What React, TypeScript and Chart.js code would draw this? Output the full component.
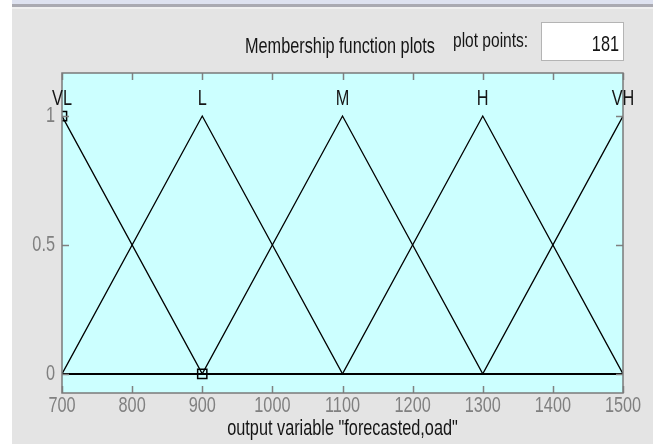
import React, { useEffect, useRef } from 'react';
import { Chart, registerables } from 'chart.js';

Chart.register(...registerables);

const FONT = '"Liberation Sans", Arial, sans-serif';
const NARROW = 0.74; // horizontal squeeze to imitate a narrow font
const FS = 22;

// ---- data ----
const xTicks = [700, 800, 900, 1000, 1100, 1200, 1300, 1400, 1500];
const yTicks = [0, 0.5, 1];
const mfNames = ['VL', 'L', 'M', 'H', 'VH'];
const mfPeaks = [700, 900, 1100, 1300, 1500];
const vlX = [700, 900, 1500];
const vlY = [1, 0, 0];
const lX = [700, 900, 1100, 1500];
const lY = [0, 1, 0, 0];
const mX = [700, 900, 1100, 1300, 1500];
const mY = [0, 0, 1, 0, 0];
const hX = [700, 1100, 1300, 1500];
const hY = [0, 0, 1, 0];
const vhX = [700, 1300, 1500];
const vhY = [0, 0, 1];
const plotPoints = '181';
const titleText = 'Membership function plots';
const plotPointsLabel = 'plot points:';
const xAxisTitle = 'output variable "forecasted,oad"';

const X_MIN = 700;
const X_MAX = 1500;
const Y_MIN = -0.074;
const Y_MAX = 1.167;
const LABEL_LEVEL = 1.066;

const BG = 'rgb(228,228,228)';
const PLOT_BG = 'rgb(204,255,255)';
const TICK_COLOR = '#808080';
const BORDER = '#7a7a7a';
const TEXT = '#151515';

const toPts = (xs: number[], ys: number[]) => xs.map((x, i) => ({ x, y: ys[i] }));

function narrowText(ctx: CanvasRenderingContext2D, text: string, x: number, y: number, align: CanvasTextAlign) {
  ctx.save();
  ctx.translate(x, y);
  ctx.scale(NARROW, 1);
  ctx.textAlign = align;
  ctx.textBaseline = 'middle';
  ctx.fillText(text, 0, 0);
  ctx.restore();
}

const framePlugin = {
  id: 'frame',
  beforeDraw(chart: any) {
    const { ctx, chartArea } = chart;
    const { left, top, right, bottom } = chartArea;
    ctx.save();
    ctx.fillStyle = PLOT_BG;
    ctx.fillRect(left, top, right - left, bottom - top);
    ctx.restore();
  },
  afterDraw(chart: any) {
    const { ctx, chartArea } = chart;
    const { left, top, right, bottom } = chartArea;
    const xs = chart.scales.x;
    const ys = chart.scales.y;
    ctx.save();
    ctx.strokeStyle = TICK_COLOR;
    ctx.lineWidth = 1.5;
    ctx.beginPath();
    xs.ticks.forEach((t: any) => {
      const px = Math.round(xs.getPixelForValue(t.value)) + 0.5;
      ctx.moveTo(px, top);
      ctx.lineTo(px, top + 7);
      ctx.moveTo(px, bottom);
      ctx.lineTo(px, bottom - 7);
    });
    ys.ticks.forEach((t: any) => {
      const py = Math.round(ys.getPixelForValue(t.value)) + 0.5;
      ctx.moveTo(left, py);
      ctx.lineTo(left + 7, py);
      ctx.moveTo(right, py);
      ctx.lineTo(right - 7, py);
    });
    ctx.stroke();
    ctx.strokeStyle = BORDER;
    ctx.lineWidth = 1.5;
    ctx.strokeRect(left, top, right - left, bottom - top);

    ctx.font = `${FS}px ${FONT}`;
    // tick labels
    ctx.fillStyle = TICK_COLOR;
    xs.ticks.forEach((t: any) => {
      narrowText(ctx, String(t.value), xs.getPixelForValue(t.value), bottom + 13, 'center');
    });
    ys.ticks.forEach((t: any) => {
      narrowText(ctx, String(t.value), left - 7, ys.getPixelForValue(t.value), 'right');
    });
    // MF names
    ctx.fillStyle = TEXT;
    mfNames.forEach((n, i) => {
      narrowText(ctx, n, xs.getPixelForValue(mfPeaks[i]), ys.getPixelForValue(LABEL_LEVEL), 'center');
    });
    // axis title
    narrowText(ctx, xAxisTitle, (left + right) / 2, bottom + 36, 'center');
    ctx.restore();
  },
};

export default function App() {
  const canvasRef = useRef<HTMLCanvasElement | null>(null);

  useEffect(() => {
    document.body.style.margin = '0';
    const canvas = canvasRef.current;
    if (!canvas) return;
    const line = (xs: number[], ys: number[], marked: boolean) => ({
      data: toPts(xs, ys),
      borderColor: '#000',
      borderWidth: 1.3,
      tension: 0,
      fill: false,
      pointStyle: 'rect',
      pointRadius: marked ? (c: any) => (c.dataIndex < 2 ? 6.5 : 0) : 0,
      pointBackgroundColor: 'rgba(0,0,0,0)',
      pointBorderColor: '#000',
      pointBorderWidth: 1.5,
    });
    const chart = new Chart(canvas, {
      type: 'line',
      data: {
        datasets: [
          line(vlX, vlY, true),
          line(lX, lY, false),
          line(mX, mY, false),
          line(hX, hY, false),
          line(vhX, vhY, false),
        ] as any,
      },
      options: {
        responsive: false,
        animation: false,
        events: [],
        layout: { padding: { top: 73, right: 34, bottom: 0, left: 0 } },
        plugins: { legend: { display: false }, tooltip: { enabled: false } },
        scales: {
          x: {
            type: 'linear',
            min: X_MIN,
            max: X_MAX,
            afterBuildTicks: (s: any) => {
              s.ticks = xTicks.map((v) => ({ value: v }));
            },
            afterFit: (s: any) => {
              s.height = 51;
            },
            grid: { display: false, drawTicks: false },
            border: { display: false },
            ticks: { display: false },
          },
          y: {
            type: 'linear',
            min: Y_MIN,
            max: Y_MAX,
            afterBuildTicks: (s: any) => {
              s.ticks = yTicks.map((v) => ({ value: v }));
            },
            afterFit: (s: any) => {
              s.width = 62;
            },
            grid: {
              display: true,
              drawTicks: false,
              color: (c: any) => (c.tick && c.tick.value === 0 ? '#000' : 'rgba(0,0,0,0)'),
              lineWidth: 2,
            },
            border: { display: false },
            ticks: { display: false },
          },
        },
      } as any,
      plugins: [framePlugin],
    });
    return () => chart.destroy();
  }, []);

  const narrow = (origin: string): React.CSSProperties => ({
    transform: `scaleX(${NARROW})`,
    transformOrigin: origin,
  });

  return (
    <div
      style={{
        position: 'fixed',
        left: 0,
        top: 0,
        width: 657,
        height: 444,
        background: BG,
        overflow: 'hidden',
        fontFamily: FONT,
      }}
    >
      <div style={{ position: 'absolute', left: 0, top: 0, width: 657, height: 4, background: 'rgb(222,226,240)' }} />
      <div style={{ position: 'absolute', left: 0, top: 4, width: 657, height: 3, background: 'rgb(170,170,178)' }} />
      <div style={{ position: 'absolute', left: 0, top: 7, width: 657, height: 2, background: 'rgb(240,240,240)' }} />
      <div style={{ position: 'absolute', left: 0, top: 0, width: 12, height: 444, background: '#fff' }} />
      <div style={{ position: 'absolute', left: 653, top: 0, width: 4, height: 444, background: '#fff' }} />
      <canvas ref={canvasRef} width={657} height={444} style={{ position: 'absolute', left: 0, top: 0 }} />
      <div
        style={{
          position: 'absolute',
          left: 190,
          width: 300,
          top: 33,
          textAlign: 'center',
          fontSize: FS,
          lineHeight: '26px',
          color: TEXT,
          whiteSpace: 'nowrap',
          ...narrow('50% 50%'),
        }}
      >
        {titleText}
      </div>
      <div
        style={{
          position: 'absolute',
          left: 453,
          top: 27,
          fontSize: FS - 1,
          lineHeight: '26px',
          color: TEXT,
          whiteSpace: 'nowrap',
          ...narrow('0% 50%'),
        }}
      >
        {plotPointsLabel}
      </div>
      <div
        style={{
          position: 'absolute',
          left: 541,
          top: 22,
          width: 81,
          height: 37,
          background: '#fff',
          border: '1px solid #b4b4b4',
          boxSizing: 'content-box',
        }}
      />
      <div
        style={{
          position: 'absolute',
          left: 519,
          width: 100,
          top: 31,
          textAlign: 'right',
          fontSize: FS,
          lineHeight: '26px',
          color: TEXT,
          whiteSpace: 'nowrap',
          ...narrow('100% 50%'),
        }}
      >
        {plotPoints}
      </div>
    </div>
  );
}
